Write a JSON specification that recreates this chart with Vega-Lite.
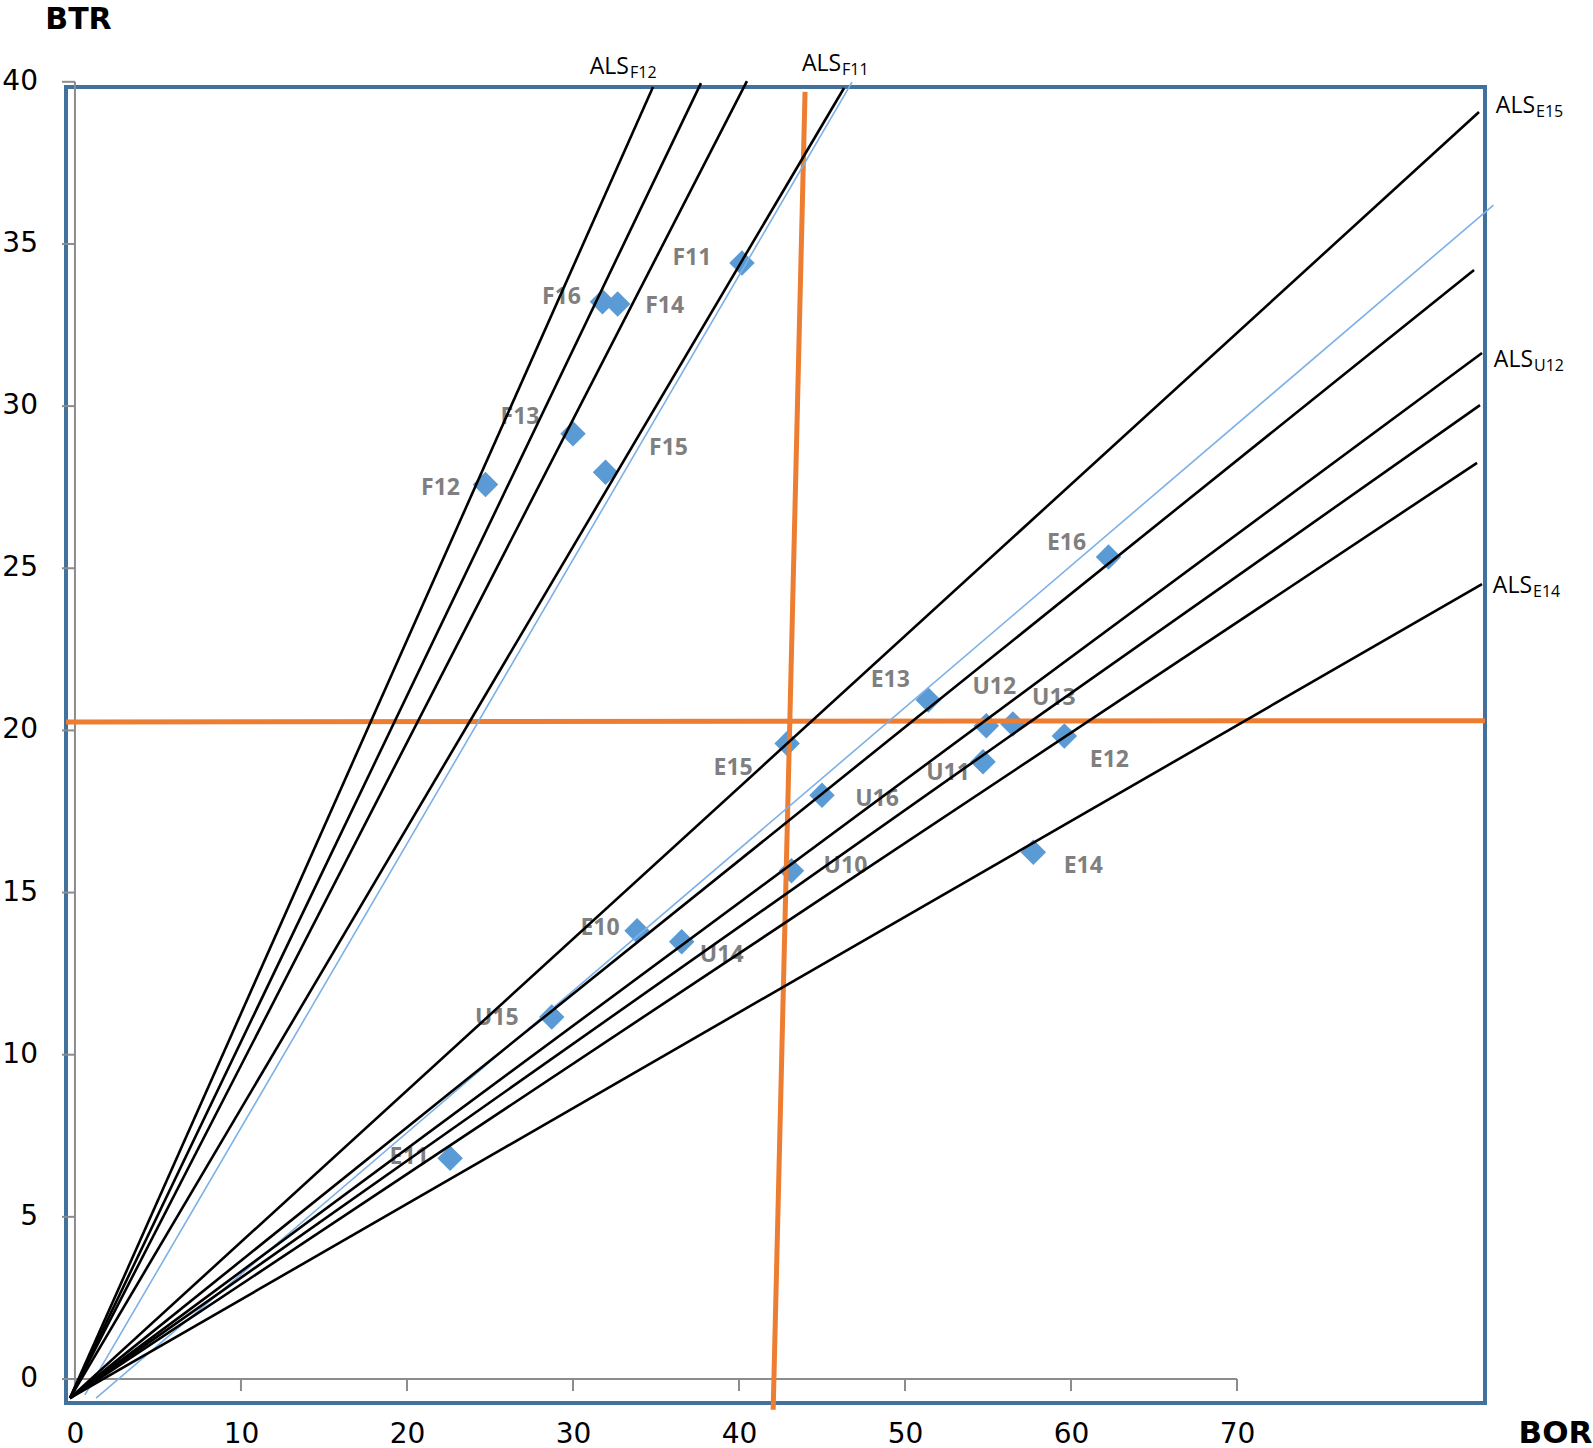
{
  "$schema": "https://vega.github.io/schema/vega-lite/v6.json",
  "width": 1419,
  "height": 1316,
  "autosize": {"type": "none"},
  "padding": {"left": 66, "top": 87, "right": 108, "bottom": 45},
  "background": "white",
  "config": {"view": {"stroke": "#41719C", "strokeWidth": 4}},
  "datasets": {
    "points": [
      {"name": "F11", "BOR": 40.18, "BTR": 34.41},
      {"name": "F16", "BOR": 31.78, "BTR": 33.22},
      {"name": "F14", "BOR": 32.69, "BTR": 33.15},
      {"name": "F13", "BOR": 30.0, "BTR": 29.15},
      {"name": "F15", "BOR": 31.96, "BTR": 27.96},
      {"name": "F12", "BOR": 24.73, "BTR": 27.58},
      {"name": "E16", "BOR": 62.26, "BTR": 25.35},
      {"name": "E13", "BOR": 51.4, "BTR": 20.94},
      {"name": "U12", "BOR": 54.9, "BTR": 20.14},
      {"name": "U13", "BOR": 56.5, "BTR": 20.2},
      {"name": "E12", "BOR": 59.6, "BTR": 19.83},
      {"name": "E15", "BOR": 42.9, "BTR": 19.6},
      {"name": "U11", "BOR": 54.7, "BTR": 19.03},
      {"name": "U16", "BOR": 45.0, "BTR": 18.0},
      {"name": "U10", "BOR": 43.16, "BTR": 15.67},
      {"name": "E14", "BOR": 57.73, "BTR": 16.24},
      {"name": "E10", "BOR": 33.86, "BTR": 13.82},
      {"name": "U14", "BOR": 36.55, "BTR": 13.48},
      {"name": "U15", "BOR": 28.72, "BTR": 11.16},
      {"name": "E11", "BOR": 22.6, "BTR": 6.81}
    ],
    "als": [
      {"line": "F12", "pt": 0, "BOR": -0.3, "BTR": -0.59},
      {"line": "F12", "pt": 1, "BOR": 34.82, "BTR": 39.84},
      {"line": "Fb", "pt": 0, "BOR": -0.3, "BTR": -0.59},
      {"line": "Fb", "pt": 1, "BOR": 37.71, "BTR": 39.96},
      {"line": "Fc", "pt": 0, "BOR": -0.3, "BTR": -0.59},
      {"line": "Fc", "pt": 1, "BOR": 40.48, "BTR": 40.02},
      {"line": "F11", "pt": 0, "BOR": -0.3, "BTR": -0.59},
      {"line": "F11", "pt": 1, "BOR": 46.33, "BTR": 39.81},
      {"line": "E15", "pt": 0, "BOR": -0.3, "BTR": -0.59},
      {"line": "E15", "pt": 1, "BOR": 84.58, "BTR": 39.07},
      {"line": "Ec", "pt": 0, "BOR": -0.3, "BTR": -0.59},
      {"line": "Ec", "pt": 1, "BOR": 84.28, "BTR": 34.2},
      {"line": "U12", "pt": 0, "BOR": -0.3, "BTR": -0.59},
      {"line": "U12", "pt": 1, "BOR": 84.76, "BTR": 31.64},
      {"line": "Ee", "pt": 0, "BOR": -0.3, "BTR": -0.59},
      {"line": "Ee", "pt": 1, "BOR": 84.64, "BTR": 30.03},
      {"line": "Ef", "pt": 0, "BOR": -0.3, "BTR": -0.59},
      {"line": "Ef", "pt": 1, "BOR": 84.46, "BTR": 28.25},
      {"line": "E14", "pt": 0, "BOR": -0.3, "BTR": -0.59},
      {"line": "E14", "pt": 1, "BOR": 84.76, "BTR": 24.51}
    ],
    "trend": [
      {"line": "F", "pt": 0, "BOR": 0.6, "BTR": -0.49},
      {"line": "F", "pt": 1, "BOR": 46.81, "BTR": 39.99},
      {"line": "EU", "pt": 0, "BOR": 1.27, "BTR": -0.59},
      {"line": "EU", "pt": 1, "BOR": 85.45, "BTR": 36.2}
    ],
    "orange": [
      {"line": "v", "pt": 0, "BOR": 42.06, "BTR": -0.95},
      {"line": "v", "pt": 1, "BOR": 43.98, "BTR": 39.69},
      {"line": "h", "pt": 0, "BOR": -0.54, "BTR": 20.26},
      {"line": "h", "pt": 1, "BOR": 84.94, "BTR": 20.3}
    ],
    "xticks": [
      {"BOR": 0, "BTR": 0}, {"BOR": 10, "BTR": 0}, {"BOR": 20, "BTR": 0}, {"BOR": 30, "BTR": 0},
      {"BOR": 40, "BTR": 0}, {"BOR": 50, "BTR": 0}, {"BOR": 60, "BTR": 0}, {"BOR": 70, "BTR": 0}
    ],
    "yticks": [
      {"BOR": 0, "BTR": 0}, {"BOR": 0, "BTR": 5}, {"BOR": 0, "BTR": 10}, {"BOR": 0, "BTR": 15}, {"BOR": 0, "BTR": 20},
      {"BOR": 0, "BTR": 25}, {"BOR": 0, "BTR": 30}, {"BOR": 0, "BTR": 35}, {"BOR": 0, "BTR": 40}
    ]
  },
  "encoding": {
    "x": {
      "field": "BOR", "type": "quantitative",
      "scale": {"domain": [-0.54, 84.94], "nice": false, "zero": false},
      "axis": {
        "values": [0, 10, 20, 30, 40, 50, 60, 70],
        "domain": false, "ticks": false, "grid": false,
        "labelFont": "DejaVu Sans", "labelFontSize": 28, "labelColor": "#000",
        "labelPadding": 17, "labelFlush": false, "labelOverlap": false,
        "title": "BOR", "titleFont": "DejaVu Sans", "titleFontSize": 31, "titleFontWeight": "bold",
        "titleColor": "#000", "titleX": 1489, "titleY": 30, "titleAlign": "center", "titleBaseline": "middle"
      }
    },
    "y": {
      "field": "BTR", "type": "quantitative",
      "scale": {"domain": [-0.74, 39.84], "nice": false, "zero": false},
      "axis": {
        "values": [0, 5, 10, 15, 20, 25, 30, 35],
        "domain": false, "ticks": false, "grid": false, "labels": false,
        "title": "BTR", "titleFont": "DejaVu Sans", "titleFontSize": 30, "titleFontWeight": "bold",
        "titleColor": "#000", "titleX": 12, "titleY": -68, "titleAngle": 0, "titleAlign": "center", "titleBaseline": "middle"
      }
    }
  },
  "layer": [
    {
      "data": {"name": "xticks"},
      "layer": [
        {"transform": [{"filter": "datum.BOR == 70"}], "mark": {"type": "rule", "color": "#8c8c8c", "strokeWidth": 2}, "encoding": {"x2": {"datum": -0.78}}},
        {"mark": {"type": "rule", "color": "#8c8c8c", "strokeWidth": 2}, "encoding": {"y2": {"datum": -0.37}}}
      ]
    },
    {
      "data": {"name": "yticks"},
      "layer": [
        {"transform": [{"filter": "datum.BTR == 40"}], "mark": {"type": "rule", "color": "#8c8c8c", "strokeWidth": 2}, "encoding": {"y2": {"datum": -0.37}}},
        {"mark": {"type": "rule", "color": "#8c8c8c", "strokeWidth": 2}, "encoding": {"x2": {"datum": -0.78}}},
        {"mark": {"type": "text", "dx": -37, "align": "right", "baseline": "middle", "font": "DejaVu Sans", "fontSize": 28, "color": "#000"}, "encoding": {"text": {"field": "BTR", "type": "quantitative"}}}
      ]
    },
    {
      "data": {"name": "points"},
      "encoding": {"text": {"field": "name"}},
      "layer": [
        {"mark": {"type": "point", "shape": "diamond", "filled": true, "size": 650, "color": "#5B9BD5", "opacity": 1}},
        {"transform": [{"filter": "datum.name == 'F11'"}], "mark": {"type": "text", "dx": -50, "dy": -5, "font": "Open Sans", "fontWeight": "bold", "fontSize": 23, "color": "#7f7f7f", "align": "center", "baseline": "middle"}},
        {"transform": [{"filter": "datum.name == 'F16'"}], "mark": {"type": "text", "dx": -41, "dy": -5, "font": "Open Sans", "fontWeight": "bold", "fontSize": 23, "color": "#7f7f7f", "align": "center", "baseline": "middle"}},
        {"transform": [{"filter": "datum.name == 'F14'"}], "mark": {"type": "text", "dx": 47, "dy": 2, "font": "Open Sans", "fontWeight": "bold", "fontSize": 23, "color": "#7f7f7f", "align": "center", "baseline": "middle"}},
        {"transform": [{"filter": "datum.name == 'F13'"}], "mark": {"type": "text", "dx": -53, "dy": -17, "font": "Open Sans", "fontWeight": "bold", "fontSize": 23, "color": "#7f7f7f", "align": "center", "baseline": "middle"}},
        {"transform": [{"filter": "datum.name == 'F15'"}], "mark": {"type": "text", "dx": 63, "dy": -24, "font": "Open Sans", "fontWeight": "bold", "fontSize": 23, "color": "#7f7f7f", "align": "center", "baseline": "middle"}},
        {"transform": [{"filter": "datum.name == 'F12'"}], "mark": {"type": "text", "dx": -45, "dy": 3, "font": "Open Sans", "fontWeight": "bold", "fontSize": 23, "color": "#7f7f7f", "align": "center", "baseline": "middle"}},
        {"transform": [{"filter": "datum.name == 'E16'"}], "mark": {"type": "text", "dx": -42, "dy": -14, "font": "Open Sans", "fontWeight": "bold", "fontSize": 23, "color": "#7f7f7f", "align": "center", "baseline": "middle"}},
        {"transform": [{"filter": "datum.name == 'E13'"}], "mark": {"type": "text", "dx": -38, "dy": -20, "font": "Open Sans", "fontWeight": "bold", "fontSize": 23, "color": "#7f7f7f", "align": "center", "baseline": "middle"}},
        {"transform": [{"filter": "datum.name == 'U12'"}], "mark": {"type": "text", "dx": 8, "dy": -39, "font": "Open Sans", "fontWeight": "bold", "fontSize": 23, "color": "#7f7f7f", "align": "center", "baseline": "middle"}},
        {"transform": [{"filter": "datum.name == 'U13'"}], "mark": {"type": "text", "dx": 41, "dy": -26, "font": "Open Sans", "fontWeight": "bold", "fontSize": 23, "color": "#7f7f7f", "align": "center", "baseline": "middle"}},
        {"transform": [{"filter": "datum.name == 'E12'"}], "mark": {"type": "text", "dx": 45, "dy": 24, "font": "Open Sans", "fontWeight": "bold", "fontSize": 23, "color": "#7f7f7f", "align": "center", "baseline": "middle"}},
        {"transform": [{"filter": "datum.name == 'E15'"}], "mark": {"type": "text", "dx": -54, "dy": 25, "font": "Open Sans", "fontWeight": "bold", "fontSize": 23, "color": "#7f7f7f", "align": "center", "baseline": "middle"}},
        {"transform": [{"filter": "datum.name == 'U11'"}], "mark": {"type": "text", "dx": -35, "dy": 11, "font": "Open Sans", "fontWeight": "bold", "fontSize": 23, "color": "#7f7f7f", "align": "center", "baseline": "middle"}},
        {"transform": [{"filter": "datum.name == 'U16'"}], "mark": {"type": "text", "dx": 55, "dy": 4, "font": "Open Sans", "fontWeight": "bold", "fontSize": 23, "color": "#7f7f7f", "align": "center", "baseline": "middle"}},
        {"transform": [{"filter": "datum.name == 'U10'"}], "mark": {"type": "text", "dx": 54, "dy": -5, "font": "Open Sans", "fontWeight": "bold", "fontSize": 23, "color": "#7f7f7f", "align": "center", "baseline": "middle"}},
        {"transform": [{"filter": "datum.name == 'E14'"}], "mark": {"type": "text", "dx": 50, "dy": 14, "font": "Open Sans", "fontWeight": "bold", "fontSize": 23, "color": "#7f7f7f", "align": "center", "baseline": "middle"}},
        {"transform": [{"filter": "datum.name == 'E10'"}], "mark": {"type": "text", "dx": -37, "dy": -3, "font": "Open Sans", "fontWeight": "bold", "fontSize": 23, "color": "#7f7f7f", "align": "center", "baseline": "middle"}},
        {"transform": [{"filter": "datum.name == 'U14'"}], "mark": {"type": "text", "dx": 40, "dy": 13, "font": "Open Sans", "fontWeight": "bold", "fontSize": 23, "color": "#7f7f7f", "align": "center", "baseline": "middle"}},
        {"transform": [{"filter": "datum.name == 'U15'"}], "mark": {"type": "text", "dx": -55, "dy": 1, "font": "Open Sans", "fontWeight": "bold", "fontSize": 23, "color": "#7f7f7f", "align": "center", "baseline": "middle"}},
        {"transform": [{"filter": "datum.name == 'E11'"}], "mark": {"type": "text", "dx": -41, "dy": -1, "font": "Open Sans", "fontWeight": "bold", "fontSize": 23, "color": "#7f7f7f", "align": "center", "baseline": "middle"}}
      ]
    },
    {
      "data": {"name": "orange"},
      "mark": {"type": "line", "color": "#ED7D31", "strokeWidth": 5},
      "encoding": {"detail": {"field": "line"}, "order": {"field": "pt"}}
    },
    {
      "data": {"name": "trend"},
      "mark": {"type": "line", "color": "#7DB0E6", "strokeWidth": 1.6},
      "encoding": {"detail": {"field": "line"}, "order": {"field": "pt"}}
    },
    {
      "data": {"name": "als"},
      "layer": [
        {"mark": {"type": "line", "color": "#000", "strokeWidth": 2.6}, "encoding": {"detail": {"field": "line"}, "order": {"field": "pt"}}},
        {"transform": [{"filter": "datum.pt == 1 && datum.line == 'F12'"}], "mark": {"type": "text", "text": "ALS", "dx": -24, "dy": -13, "align": "right", "baseline": "alphabetic", "font": "Open Sans", "fontSize": 23, "color": "#000"}},
        {"transform": [{"filter": "datum.pt == 1 && datum.line == 'F12'"}], "mark": {"type": "text", "dx": -23, "dy": -9, "align": "left", "baseline": "alphabetic", "font": "Open Sans", "fontSize": 16, "color": "#000"}, "encoding": {"text": {"field": "line"}}},
        {"transform": [{"filter": "datum.pt == 1 && datum.line == 'F11'"}], "mark": {"type": "text", "text": "ALS", "dx": -3, "dy": -17, "align": "right", "baseline": "alphabetic", "font": "Open Sans", "fontSize": 23, "color": "#000"}},
        {"transform": [{"filter": "datum.pt == 1 && datum.line == 'F11'"}], "mark": {"type": "text", "dx": -2, "dy": -13, "align": "left", "baseline": "alphabetic", "font": "Open Sans", "fontSize": 16, "color": "#000"}, "encoding": {"text": {"field": "line"}}},
        {"transform": [{"filter": "datum.pt == 1 && datum.line == 'E15'"}], "mark": {"type": "text", "text": "ALS", "dx": 56, "dy": 1, "align": "right", "baseline": "alphabetic", "font": "Open Sans", "fontSize": 23, "color": "#000"}},
        {"transform": [{"filter": "datum.pt == 1 && datum.line == 'E15'"}], "mark": {"type": "text", "dx": 57, "dy": 5, "align": "left", "baseline": "alphabetic", "font": "Open Sans", "fontSize": 16, "color": "#000"}, "encoding": {"text": {"field": "line"}}},
        {"transform": [{"filter": "datum.pt == 1 && datum.line == 'U12'"}], "mark": {"type": "text", "text": "ALS", "dx": 51, "dy": 14, "align": "right", "baseline": "alphabetic", "font": "Open Sans", "fontSize": 23, "color": "#000"}},
        {"transform": [{"filter": "datum.pt == 1 && datum.line == 'U12'"}], "mark": {"type": "text", "dx": 52, "dy": 18, "align": "left", "baseline": "alphabetic", "font": "Open Sans", "fontSize": 16, "color": "#000"}, "encoding": {"text": {"field": "line"}}},
        {"transform": [{"filter": "datum.pt == 1 && datum.line == 'E14'"}], "mark": {"type": "text", "text": "ALS", "dx": 50, "dy": 9, "align": "right", "baseline": "alphabetic", "font": "Open Sans", "fontSize": 23, "color": "#000"}},
        {"transform": [{"filter": "datum.pt == 1 && datum.line == 'E14'"}], "mark": {"type": "text", "dx": 51, "dy": 13, "align": "left", "baseline": "alphabetic", "font": "Open Sans", "fontSize": 16, "color": "#000"}, "encoding": {"text": {"field": "line"}}}
      ]
    }
  ]
}
